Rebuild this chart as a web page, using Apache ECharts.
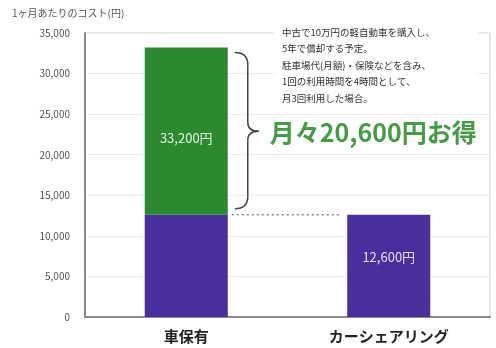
<!DOCTYPE html>
<html><head><meta charset="utf-8">
<script src="https://cdn.jsdelivr.net/npm/echarts@6/dist/echarts.min.js"></script>
<style>html,body{margin:0;padding:0;background:#fff}#c{width:496px;height:348px}</style>
</head><body><div id="c"></div>
<script>
const categories = ['車保有', 'カーシェアリング'];
const baseCost = [12600, 12600];
const extraCost = [20600, 0];
const yTicks = [0, 5000, 10000, 15000, 20000, 25000, 30000, 35000];
const yName = '1ヶ月あたりのコスト(円)';
const savingText = '月々20,600円お得';
const noteLines = [
  '中古で10万円の軽自動車を購入し、',
  '5年で償却する予定。',
  '駐車場代(月額)・保険などを含み、',
  '1回の利用時間を4時間として、',
  '月3回利用した場合。'
];

const fmt = v => v.toLocaleString('en-US');
const totals = baseCost.map((b, i) => b + extraCost[i]);
const FONT = '"Noto Sans CJK JP", "Noto Sans", sans-serif';

const chart = echarts.init(document.getElementById('c'));
chart.setOption({
  animation: false,
  grid: { left: 85, right: 6, top: 33, bottom: 31, show: true, borderColor: '#cfcfcf', borderWidth: 1 },
  xAxis: {
    type: 'category', data: categories,
    axisLine: { lineStyle: { color: '#8a8a8a', width: 2 } },
    axisTick: { show: false },
    axisLabel: { color: '#222', fontSize: 15, fontWeight: 'bold', margin: 12, fontFamily: FONT }
  },
  yAxis: {
    type: 'value', min: yTicks[0], max: yTicks[yTicks.length - 1], interval: yTicks[1] - yTicks[0],
    axisLine: { show: true, lineStyle: { color: '#8a8a8a', width: 2 } },
    axisTick: { show: false },
    splitLine: { lineStyle: { color: '#ececec' } },
    axisLabel: { color: '#555', fontSize: 10, margin: 15, formatter: v => fmt(v), fontFamily: FONT }
  },
  series: [
    {
      type: 'bar', stack: 'cost', data: baseCost, barWidth: '41%',
      itemStyle: { color: '#4b2e9e' },
      label: {
        show: true, position: 'insideTop', distance: 36, color: '#e4dcff', fontSize: 13, fontFamily: FONT,
        formatter: p => extraCost[p.dataIndex] ? '' : fmt(p.value) + '円'
      }
    },
    {
      type: 'bar', stack: 'cost', data: extraCost.map(v => v || '-'), barWidth: '41%',
      itemStyle: { color: '#2b8a2e' },
      label: {
        show: true, position: 'inside', offset: [0, 7], color: '#e2f6e2', fontSize: 13, fontFamily: FONT,
        formatter: p => fmt(totals[p.dataIndex]) + '円'
      }
    }
  ]
});

// annotations positioned through the chart's own scales
const px = (c, v) => chart.convertToPixel({ gridIndex: 0 }, [c, v]);
const bandW = px(1, 0)[0] - px(0, 0)[0];
const barHalf = bandW * 0.41 / 2;
const b0 = px(0, 0);
const topY = px(0, totals[0])[1] + 5;
const botY = px(0, baseCost[0])[1] - 6;
const midY = px(0, baseCost[0] + extraCost[0] / 2)[1];
const xl = b0[0] + barHalf + 7, xm = xl + 13, xt = xm + 11;
const dashY = px(0, baseCost[0])[1];
const dashX1 = b0[0] + barHalf + 4;
const dashX2 = px(1, 0)[0] - barHalf - 8;
const braceStyle = { stroke: '#444', lineWidth: 1.5, fill: null };

chart.setOption({
  graphic: [
    { type: 'text', left: 12, top: 8, style: { text: yName, fill: '#555', font: '10px ' + FONT } },
    { type: 'bezierCurve', shape: { x1: xl, y1: topY, cpx1: xm, cpy1: topY, x2: xm, y2: topY + 12 }, style: braceStyle },
    { type: 'line', shape: { x1: xm, y1: topY + 12, x2: xm, y2: midY - 9 }, style: braceStyle },
    { type: 'bezierCurve', shape: { x1: xm, y1: midY - 9, cpx1: xm, cpy1: midY, x2: xt, y2: midY }, style: braceStyle },
    { type: 'bezierCurve', shape: { x1: xt, y1: midY, cpx1: xm, cpy1: midY, x2: xm, y2: midY + 9 }, style: braceStyle },
    { type: 'line', shape: { x1: xm, y1: midY + 9, x2: xm, y2: botY - 12 }, style: braceStyle },
    { type: 'bezierCurve', shape: { x1: xm, y1: botY - 12, cpx1: xm, cpy1: botY, x2: xl, y2: botY }, style: braceStyle },
    { type: 'line', shape: { x1: dashX1, y1: dashY, x2: dashX2, y2: dashY }, style: { stroke: '#888', lineWidth: 1.5, lineDash: [2, 3] } },
    { type: 'text', x: xt + 11, y: midY + 1, style: { text: savingText, fill: '#449c44', font: 'bold 25px ' + FONT, textVerticalAlign: 'middle' } },
    { type: 'rect', shape: { x: 274, y: 24, width: 204, height: 84 }, style: { fill: '#fff' } },
    { type: 'text', x: 282, y: 24, style: { text: noteLines.join('\n'), fill: '#333', font: '9.5px ' + FONT, lineHeight: 16.5 } }
  ]
});
</script></body></html>
